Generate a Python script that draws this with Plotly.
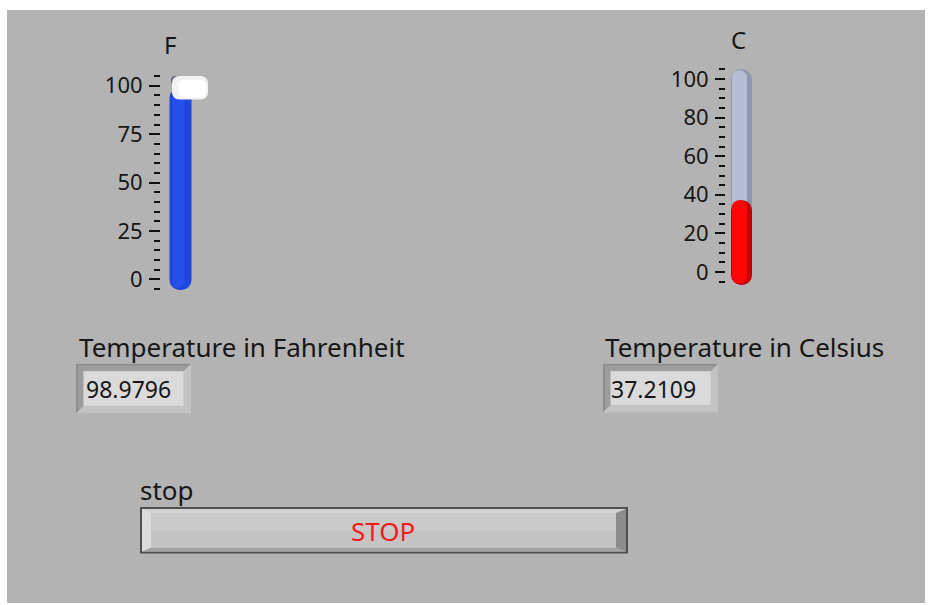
import plotly.graph_objects as go

W, H = 930, 605

# ---- data ----
f_title = "F"
c_title = "C"
f_tick_vals = [0, 25, 50, 75, 100]
c_tick_vals = [0, 20, 40, 60, 80, 100]
f_value = 98.9796
c_value = 37.2109
f_label = "Temperature in Fahrenheit"
c_label = "Temperature in Celsius"
button_caption = "stop"
button_text = "STOP"

FONT = "Noto Sans"
TXT = "#161616"
PANEL = "#b3b3b3"


def px(x):
    return x / W


def py(y):
    return 1 - y / H


fig = go.Figure()

# ---------- Fahrenheit thermometer (axes x / y) ----------
f_range = [-6, 106]
f_bottom = -5.4
# blue fill: drawn downward from value so the rounded tip is at the bottom
fig.add_trace(go.Bar(x=[180.5], y=[f_bottom - f_value], base=[f_value], width=[22],
                     marker=dict(color="#1f46de", cornerradius=10, line=dict(width=0)),
                     xaxis="x", yaxis="y", hoverinfo="skip"))
fig.add_trace(go.Bar(x=[178.5], y=[f_bottom + 1 - f_value], base=[f_value], width=[12],
                     marker=dict(color="#2750ea", cornerradius=6, line=dict(width=0)),
                     xaxis="x", yaxis="y", hoverinfo="skip"))
# slider thumb at the value (with a small shadow at its upper left)
fig.add_trace(go.Bar(x=[180], y=[5], base=[f_value + 1.0], width=[18],
                     marker=dict(color="#6a6c80", cornerradius=5, line=dict(width=0)),
                     xaxis="x", yaxis="y", hoverinfo="skip"))
fig.add_trace(go.Bar(x=[190], y=[12.2], base=[f_value - 6.1], width=[36],
                     marker=dict(color="#f2f2f2", cornerradius=7, line=dict(width=0)),
                     xaxis="x", yaxis="y", hoverinfo="skip"))
fig.add_trace(go.Bar(x=[192], y=[9], base=[f_value - 5.0], width=[28],
                     marker=dict(color="#ffffff", cornerradius=6, line=dict(width=0)),
                     xaxis="x", yaxis="y", hoverinfo="skip"))

# ---------- Celsius thermometer (axes x2 / y2) ----------
c_range = [-8, 107]
c_bottom = -6.8
c_top = 105.1
fig.add_trace(go.Bar(x=[741.5], y=[c_top - c_bottom], base=[c_bottom], width=[21],
                     marker=dict(color="#8f97b0", cornerradius=10, line=dict(width=0)),
                     xaxis="x2", yaxis="y2", hoverinfo="skip"))
fig.add_trace(go.Bar(x=[739.5], y=[c_top - 0.6 - c_bottom], base=[c_bottom], width=[15],
                     marker=dict(color="#b6bed6", cornerradius=7, line=dict(width=0)),
                     xaxis="x2", yaxis="y2", hoverinfo="skip"))
fig.add_trace(go.Bar(x=[741.5], y=[c_bottom - c_value], base=[c_value], width=[21],
                     marker=dict(color="#c00000", cornerradius=10, line=dict(width=0)),
                     xaxis="x2", yaxis="y2", hoverinfo="skip"))
fig.add_trace(go.Bar(x=[739.5], y=[c_bottom + 0.6 - c_value], base=[c_value], width=[15],
                     marker=dict(color="#ff0505", cornerradius=7, line=dict(width=0)),
                     xaxis="x2", yaxis="y2", hoverinfo="skip"))

tickfont = dict(family=FONT, size=22, color=TXT)
minor_f = dict(ticks="outside", ticklen=6, tickwidth=2, tickcolor="#111", dtick=5, showgrid=False)
minor_c = dict(ticks="outside", ticklen=6, tickwidth=2, tickcolor="#111", dtick=5, showgrid=False)

f_pix_per = 1.96
f_dom = [py(277.7 - f_range[0] * f_pix_per), py(277.7 - f_range[1] * f_pix_per)]
c_pix_per = 1.95
c_dom = [py(270 - c_range[0] * c_pix_per), py(270 - c_range[1] * c_pix_per)]

hidden_x = dict(showgrid=False, zeroline=False, showline=False, showticklabels=False, ticks="")

fig.update_layout(
    width=W, height=H,
    margin=dict(l=0, r=0, t=0, b=0),
    paper_bgcolor="white", plot_bgcolor="rgba(0,0,0,0)",
    showlegend=False, barmode="overlay",
    xaxis=dict(domain=[px(161), px(215)], range=[161, 215], **hidden_x),
    yaxis=dict(domain=f_dom, range=f_range, anchor="x", tickvals=f_tick_vals,
               ticks="outside", ticklen=11, tickwidth=2, tickcolor="#111",
               ticklabelstandoff=2, tickfont=tickfont, showgrid=False, zeroline=False,
               showline=False, minor=minor_f),
    xaxis2=dict(domain=[px(726), px(770)], range=[726, 770], anchor="y2", **hidden_x),
    yaxis2=dict(domain=c_dom, range=c_range, anchor="x2", tickvals=c_tick_vals,
                ticks="outside", ticklen=10, tickwidth=2, tickcolor="#111",
                ticklabelstandoff=2, tickfont=tickfont, showgrid=False, zeroline=False,
                showline=False, minor=minor_c),
)

shapes = []
# panel background
shapes.append(dict(type="rect", xref="paper", yref="paper", x0=px(7), x1=px(925),
                   y0=0, y1=py(5), fillcolor=PANEL, line=dict(width=0), layer="below"))


def poly(points, color):
    d = "M " + " L ".join(f"{px(x):.6f},{py(y):.6f}" for x, y in points) + " Z"
    return dict(type="path", xref="paper", yref="paper", path=d, fillcolor=color,
                line=dict(width=0), layer="below")


def bevel_box(x0, y0, x1, y1, b):
    out = []
    out.append(poly([(x0, y0), (x1, y0), (x1, y1), (x0, y1)], "#c3c3c3"))
    out.append(poly([(x0, y0), (x1, y0), (x1 - b, y0 + b), (x0 + b, y0 + b),
                     (x0 + b, y1 - b), (x0, y1)], "#8e8e8e"))
    out.append(poly([(x0 + 2, y0 + 2), (x1 - 3, y0 + 2), (x1 - b, y0 + b), (x0 + b, y0 + b),
                     (x0 + b, y1 - b), (x0 + 2, y1 - 3)], "#9d9d9d"))
    out.append(poly([(x0 + b, y0 + b), (x1 - b, y0 + b), (x1 - b, y1 - b), (x0 + b, y1 - b)],
                    "#dadada"))
    return out


shapes += bevel_box(76, 363, 191, 413, 7.5)
shapes += bevel_box(603, 363, 718, 412, 7.5)

# STOP button
bx0, by0, bx1, by1 = 140, 508, 628, 555
shapes.append(poly([(bx0, by0), (bx1, by0), (bx1, by1), (bx0, by1)], "#4f4f4f"))
ix0, iy0, ix1, iy1 = bx0 + 2, by0 + 2, bx1 - 2, by1 - 2
shapes.append(poly([(ix0, iy0), (ix1, iy0), (ix1, iy1), (ix0, iy1)], "#c4c4c4"))
shapes.append(poly([(ix0, iy0), (ix1, iy0), (ix1 - 10, iy0 + 4), (ix0 + 9, iy0 + 4)], "#d2d2d2"))
shapes.append(poly([(ix0, iy0), (ix0 + 9, iy0 + 4), (ix0 + 9, iy1 - 4), (ix0, iy1)], "#dcdcdc"))
shapes.append(poly([(ix1, iy0), (ix1, iy1), (ix1 - 10, iy1 - 4), (ix1 - 10, iy0 + 4)], "#8c8c8c"))
shapes.append(poly([(ix0, iy1), (ix1, iy1), (ix1 - 10, iy1 - 4), (ix0 + 9, iy1 - 4)], "#a4a4a4"))
shapes.append(poly([(ix0 + 9, iy0 + 4), (ix1 - 10, iy0 + 4), (ix1 - 10, (iy0 + iy1) / 2),
                    (ix0 + 9, (iy0 + iy1) / 2)], "#cacaca"))
fig.update_layout(shapes=shapes)

ann = []


def text(x, y, s, size=26, color=TXT, xanchor="left"):
    ann.append(dict(x=px(x), y=py(y), xref="paper", yref="paper", text=s, showarrow=False,
                    xanchor=xanchor, yanchor="middle",
                    font=dict(family=FONT, size=size, color=color)))


text(170, 40, f_title, size=24, xanchor="center")
text(738, 35, c_title, size=24, xanchor="center")
text(77, 346, f_label)
text(603, 346, c_label)
text(84, 388, f"{f_value:.4f}", size=23)
text(609, 388, f"{c_value:.4f}", size=23)
text(138, 491, button_caption, size=26)
text(383, 532, button_text, size=26, color="#f01c1c", xanchor="center")
fig.update_layout(annotations=ann)

post = ("document.documentElement.style.overflow='hidden';"
        "document.body.style.margin='0';document.body.style.overflow='hidden';"
        "var d=document.getElementById('{plot_id}');"
        "d.style.position='fixed';d.style.left='0px';d.style.top='0px';")
fig.write_html("out.html", config={"displayModeBar": False}, post_script=post)
